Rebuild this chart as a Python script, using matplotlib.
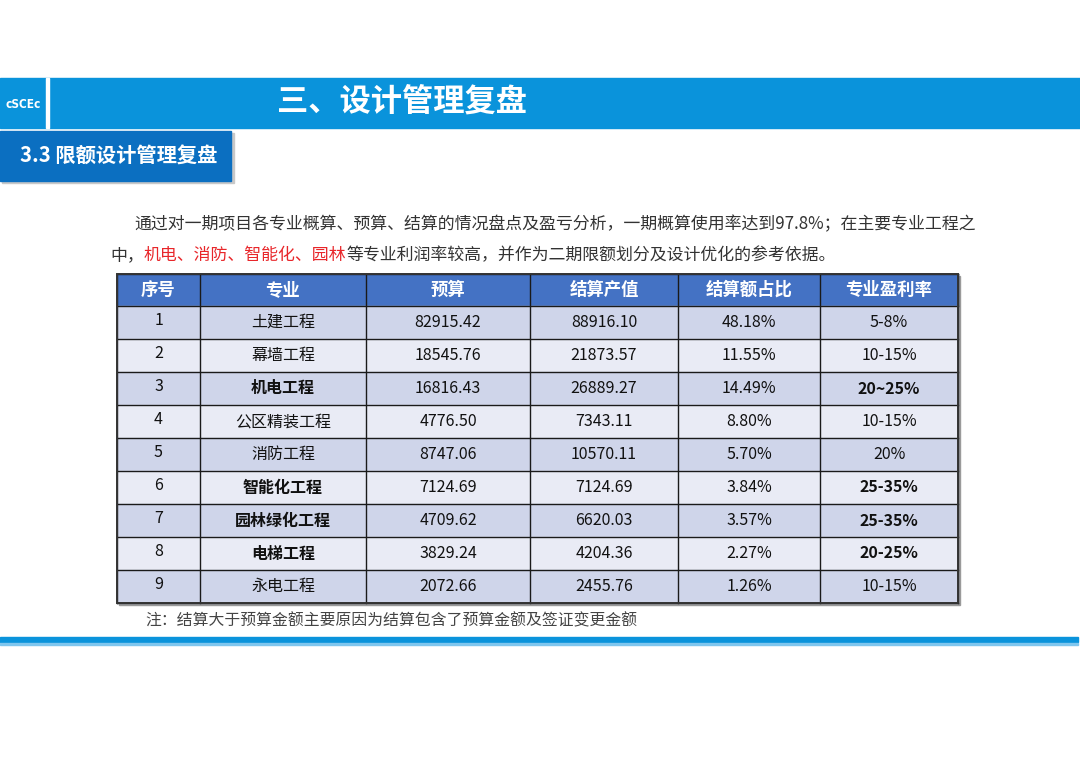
import matplotlib
matplotlib.use('Agg')
import matplotlib.pyplot as plt
from matplotlib.patches import Rectangle

plt.rcParams['font.family'] = ['Noto Sans CJK SC', 'DejaVu Sans']

# table data
headers = ["序号", "专业", "预算", "结算产值", "结算额占比", "专业盈利率"]
seq = ["1", "2", "3", "4", "5", "6", "7", "8", "9"]
majors = ["土建工程", "幕墙工程", "机电工程", "公区精装工程", "消防工程",
          "智能化工程", "园林绿化工程", "电梯工程", "永电工程"]
budget = ["82915.42", "18545.76", "16816.43", "4776.50", "8747.06",
          "7124.69", "4709.62", "3829.24", "2072.66"]
settle = ["88916.10", "21873.57", "26889.27", "7343.11", "10570.11",
          "7124.69", "6620.03", "4204.36", "2455.76"]
share = ["48.18%", "11.55%", "14.49%", "8.80%", "5.70%",
         "3.84%", "3.57%", "2.27%", "1.26%"]
profit = ["5-8%", "10-15%", "20~25%", "10-15%", "20%",
          "25-35%", "25-35%", "20-25%", "10-15%"]
bold_rows = [False, False, True, False, False, True, True, True, False]

title = "三、设计管理复盘"
subtitle = "3.3 限额设计管理复盘"
line1 = "通过对一期项目各专业概算、预算、结算的情况盘点及盈亏分析，一期概算使用率达到97.8%；在主要专业工程之"
line2_parts = [("中，", "#333333"), ("机电、消防、智能化、园林", "#e8262a"),
               ("等专业利润率较高，并作为二期限额划分及设计优化的参考依据。", "#333333")]
note = "注：结算大于预算金额主要原因为结算包含了预算金额及签证变更金额"

W, H = 1080, 764
fig = plt.figure(figsize=(W / 100, H / 100), dpi=100)
ax = fig.add_axes([0, 0, 1, 1])
ax.set_xlim(0, W)
ax.set_ylim(H, 0)
ax.axis('off')

# top banner
ax.add_patch(Rectangle((0, 78), 1080, 50, color='#0a93db', zorder=1))
ax.add_patch(Rectangle((46, 78), 3, 50, color='white', zorder=2))
ax.text(23, 104, "cSCEc", color='white', fontsize=8.5, fontweight='bold',
        fontstretch='condensed', ha='center', va='center',
        family='DejaVu Sans', zorder=3)
ax.text(402, 102, title, color='white', fontsize=22.5, fontweight='bold',
        ha='center', va='center', zorder=3)

# subtitle box with shadow
ax.add_patch(Rectangle((2, 133), 232, 50, color='#c8c8c8', zorder=1))
ax.add_patch(Rectangle((0, 131), 231, 50, color='#0b6fc1', zorder=2))
ax.text(20, 156, subtitle, color='white', fontsize=14.6, fontweight='bold',
        ha='left', va='center', zorder=3)

# paragraph
fs = 12.2
ax.text(134, 224, line1, color='#333333', fontsize=fs, ha='left', va='center')
prev = None
for s, c in line2_parts:
    if prev is None:
        prev = ax.text(110, 255, s, color=c, fontsize=fs, ha='left', va='center')
    else:
        prev = ax.annotate(s, xy=(1, 0), xycoords=prev, color=c, fontsize=fs,
                           ha='left', va='bottom')

# table
col_x = [117, 200, 366, 530, 678, 820, 958]
top, head_h, row_h = 274, 32, 33
n = len(seq)
bottom = top + head_h + n * row_h

ax.add_patch(Rectangle((col_x[0] + 2, top + 2), col_x[-1] - col_x[0], bottom - top,
                       color='#9a9a9a', zorder=1))
ax.add_patch(Rectangle((col_x[0], top), col_x[-1] - col_x[0], head_h,
                       color='#4472c4', zorder=2))
for j, h in enumerate(headers):
    ax.text((col_x[j] + col_x[j + 1]) / 2, top + head_h / 2, h, color='white',
            fontsize=12.5, fontweight='bold', ha='center', va='center', zorder=4)

cols = [seq, majors, budget, settle, share, profit]
for i in range(n):
    y0 = top + head_h + i * row_h
    fill = '#cfd5ea' if i % 2 == 0 else '#e9ebf5'
    ax.add_patch(Rectangle((col_x[0], y0), col_x[-1] - col_x[0], row_h,
                           color=fill, zorder=2))
    for j, col in enumerate(cols):
        b = bold_rows[i] and j in (1, 5)
        yy = y0 + row_h / 2 - (2 if j == 0 else 0)
        ax.text((col_x[j] + col_x[j + 1]) / 2, yy, col[i], color='#111111',
                fontsize=11.5, fontweight='bold' if b else 'normal',
                ha='center', va='center', zorder=4)

# grid lines
for x in col_x:
    ax.plot([x, x], [top, bottom], color='#1a1a1a', lw=1, zorder=3)
for i in range(n + 2):
    y = top if i == 0 else top + head_h + (i - 1) * row_h
    ax.plot([col_x[0], col_x[-1]], [y, y], color='#1a1a1a', lw=1, zorder=3)
ax.add_patch(Rectangle((col_x[0], top), col_x[-1] - col_x[0], bottom - top,
                       fill=False, ec='#333333', lw=1.4, zorder=3))

# note
ax.text(145, 621, note, color='#444444', fontsize=11.4, ha='left', va='center')

# bottom rules
ax.add_patch(Rectangle((0, 637), 1078, 5, color='#0a93db', zorder=1))
ax.add_patch(Rectangle((0, 643), 1078, 2, color='#7fc6ee', zorder=1))

fig.savefig('out.png', dpi=100, facecolor='white')
